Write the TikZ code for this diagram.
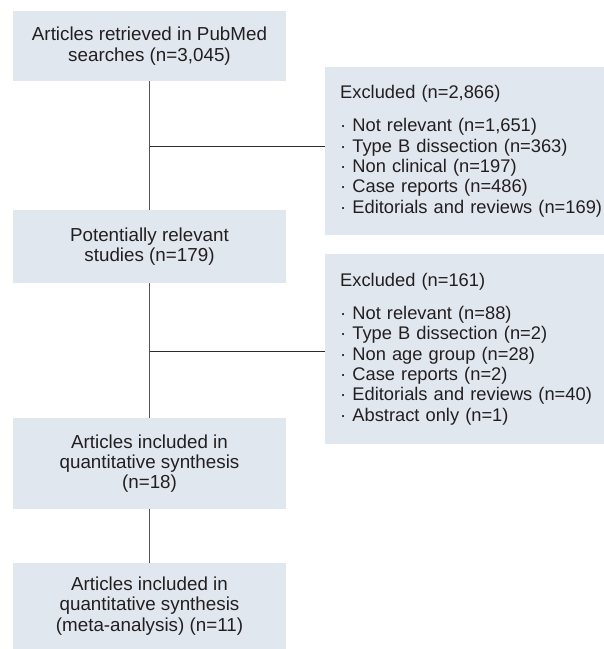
\documentclass[tikz,border=0pt]{standalone}
\usepackage{fontspec}
\setmainfont{Liberation Sans}
\usepackage{tikz}
\usetikzlibrary{calc}
\usetikzlibrary{positioning}
\definecolor{boxfill}{RGB}{224,231,239}
\definecolor{boxtext}{RGB}{35,31,32}
\definecolor{vline}{RGB}{85,85,85}
\definecolor{hline}{RGB}{45,45,45}
\tikzset{stage/.style={rectangle,fill=boxfill,text=boxtext,minimum width=273pt,align=center,inner sep=0pt,font=\fontsize{18.8}{20.3}\selectfont}}
\tikzset{exbox/.style={rectangle,fill=boxfill,text=boxtext,anchor=north west,text width=275pt,align=left,inner xsep=15pt,inner ysep=0pt,font=\fontsize{18.3}{20.3}\selectfont}}
\tikzset{vlink/.style={draw=vline,line width=1.5pt}}
\tikzset{hlink/.style={draw=hline,line width=1pt}}

\begin{document}
\begin{tikzpicture}[x=1pt,y=-1pt]
    \useasboundingbox (0,0) rectangle (604,649);
    \node[stage, minimum height=70pt] (search) at (149.5,46) {Articles retrieved in PubMed\\searches (n=3,045)};
    \node[stage, minimum height=73pt] (relevant) at (149.5,246.5) {Potentially relevant\\studies (n=179)};
    \node[stage, minimum height=91pt] (included) at (149.5,463.5) {Articles included in\\quantitative synthesis\\(n=18)};
    \node[stage, minimum height=86pt] (meta) at (149.5,606) {Articles included in\\quantitative synthesis\\(meta-analysis) (n=11)};
    \node[exbox, minimum height=168pt] (excl1) at (325,67) {Excluded (n=2,866)\\[12.7pt]
        · Not relevant (n=1,651)\\
        · Type B dissection (n=363)\\
        · Non clinical (n=197)\\
        · Case reports (n=486)\\
        · Editorials and reviews (n=169)};
    \node[exbox, minimum height=190pt] (excl2) at (325,254) {Excluded (n=161)\\[12.7pt]
        · Not relevant (n=88)\\
        · Type B dissection (n=2)\\
        · Non age group (n=28)\\
        · Case reports (n=2)\\
        · Editorials and reviews (n=40)\\
        · Abstract only (n=1)};
    \coordinate (j1) at (149.5,146);
    \coordinate (j2) at (149.5,351);
    % flow
    \draw[vlink] (search) -- (relevant);
    \draw[vlink] (relevant) -- (included);
    \draw[vlink] (included) -- (meta);
    % exclusions
    \draw[hlink] (j1) -- (excl1.west |- j1);
    \draw[hlink] (j2) -- (excl2.west |- j2);
\end{tikzpicture}
\end{document}
